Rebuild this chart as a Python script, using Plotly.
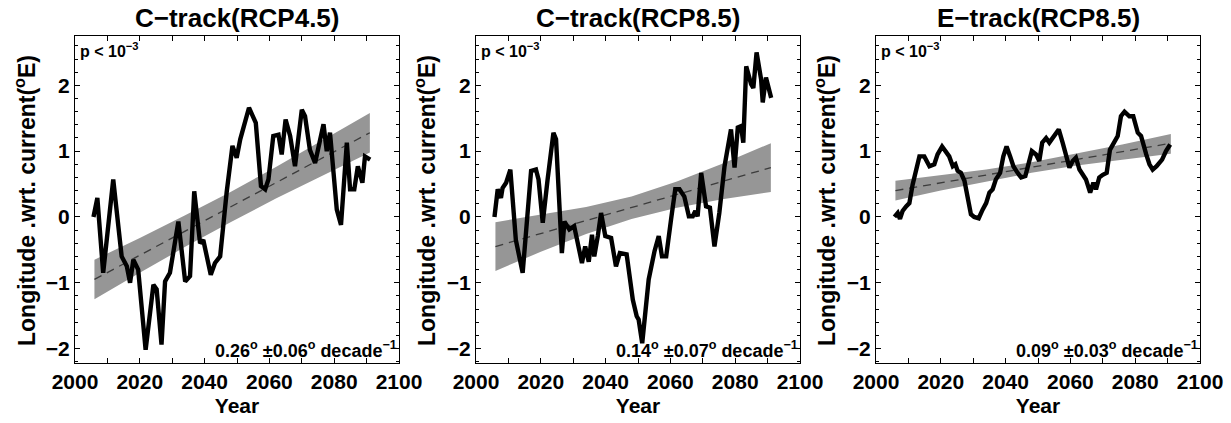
import plotly.graph_objects as go

# ---------------- data ----------------
titles = ["C\u2212track(RCP4.5)", "C\u2212track(RCP8.5)", "E\u2212track(RCP8.5)"]
rates = ["0.26<sup>o</sup> \u00b10.06<sup>o</sup> decade<sup>\u22121</sup>",
         "0.14<sup>o</sup> \u00b10.07<sup>o</sup> decade<sup>\u22121</sup>",
         "0.09<sup>o</sup> \u00b10.03<sup>o</sup> decade<sup>\u22121</sup>"]
p_label = "p < 10<sup>\u22123</sup>"
y_title = "Longitude .wrt. current(<sup>o</sup>E)"
x_title = "Year"

c45_years = [2005.7, 2006.9, 2008.7, 2011.8, 2014.4, 2016.0, 2017.0, 2018.0, 2019.5, 2021.8,
             2024.2, 2025.2, 2026.7, 2027.8, 2029.3, 2031.9, 2034.0, 2035.5, 2036.8, 2038.6,
             2039.6, 2041.9, 2043.2, 2044.8, 2046.8, 2048.6, 2049.9, 2051.0, 2053.7, 2055.8,
             2057.4, 2058.7, 2059.7, 2061.2, 2062.8, 2063.8, 2065.0, 2066.4, 2067.9, 2070.0,
             2071.0, 2072.5, 2074.1, 2076.7, 2077.7, 2078.7, 2079.8, 2080.8, 2082.1, 2083.9,
             2084.9, 2086.2, 2087.3, 2088.7, 2089.5, 2091.1]
c45_vals = [0.00, 0.29, -0.85, 0.57, -0.60, -0.75, -1.00, -0.65, -0.80, -2.02,
            -1.03, -1.10, -1.94, -0.98, -0.85, -0.07, -0.98, -0.90, 0.39, -0.40,
            -0.35, -0.88, -0.70, -0.60, 0.37, 1.08, 0.90, 1.18, 1.66, 1.43,
            0.47, 0.42, 0.57, 1.23, 1.25, 0.95, 1.48, 1.23, 0.77, 1.63,
            1.53, 1.02, 0.82, 1.41, 1.00, 1.28, 0.67, 0.11, -0.12, 1.13,
            0.42, 0.42, 0.77, 0.52, 0.92, 0.87]

c85_years = [2005.7, 2006.7, 2007.7, 2008.2, 2009.3, 2010.6, 2012.3, 2014.4, 2017.0, 2018.5,
             2019.3, 2020.6, 2022.1, 2023.9, 2024.7, 2026.5, 2027.3, 2028.8, 2030.3, 2031.4,
             2032.7, 2033.7, 2034.8, 2035.8, 2036.5, 2037.6, 2038.6, 2039.9, 2041.7, 2043.2,
             2044.4, 2046.5, 2048.4, 2049.6, 2050.2, 2051.3, 2052.0, 2053.3, 2055.1, 2056.4,
             2057.4, 2058.7, 2060.2, 2061.5, 2062.8, 2064.3, 2065.7, 2066.9, 2067.7, 2068.4,
             2069.5, 2071.0, 2072.2, 2073.6, 2075.1, 2076.7, 2078.7, 2079.8, 2080.8, 2081.8,
             2082.5, 2083.4, 2084.9, 2085.6, 2086.6, 2088.0, 2088.5, 2089.5, 2091.1]
c85_vals = [0.00, 0.42, 0.29, 0.44, 0.52, 0.72, -0.35, -0.85, 0.70, 0.72,
            0.57, -0.09, 0.57, 1.28, 1.18, -0.55, -0.07, -0.19, -0.14, -0.37,
            -0.70, -0.45, -0.68, -0.27, -0.60, -0.29, 0.06, -0.29, -0.32, -0.75,
            -0.55, -0.57, -1.26, -1.51, -1.56, -1.92, -1.56, -0.95, -0.52, -0.29,
            -0.60, -0.60, -0.04, 0.42, 0.42, 0.31, 0.01, 0.01, 0.09, 0.01,
            0.67, 0.16, 0.14, -0.45, 0.06, 0.77, 1.33, 0.75, 1.36, 1.38,
            1.13, 2.29, 2.02, 1.96, 2.50, 2.09, 1.74, 2.12, 1.81]

e85_years = [2005.7, 2006.7, 2007.4, 2008.2, 2009.3, 2010.3, 2011.3, 2012.3, 2013.4, 2014.9,
             2016.5, 2018.0, 2019.0, 2020.4, 2021.6, 2022.6, 2023.7, 2024.5, 2025.2, 2026.2,
             2027.3, 2028.3, 2029.3, 2030.3, 2031.7, 2032.9, 2034.0, 2035.0, 2036.0, 2037.0,
             2038.3, 2039.3, 2040.3, 2041.4, 2042.4, 2043.7, 2044.8, 2046.1, 2047.1, 2048.1,
             2049.4, 2050.4, 2051.3, 2052.5, 2053.5, 2055.1, 2056.4, 2057.6, 2058.7, 2059.7,
             2060.7, 2061.7, 2062.8, 2063.8, 2064.8, 2066.1, 2067.1, 2067.9, 2068.9, 2070.0,
             2071.2, 2072.2, 2073.6, 2074.6, 2075.6, 2076.7, 2078.2, 2079.4, 2080.8, 2081.8,
             2083.4, 2084.4, 2085.4, 2086.6, 2088.3, 2089.5, 2090.8]
e85_vals = [0.00, 0.06, -0.03, 0.09, 0.16, 0.21, 0.49, 0.72, 0.92, 0.92,
            0.77, 0.80, 0.95, 1.07, 1.00, 0.92, 0.77, 0.80, 0.70, 0.67,
            0.55, 0.27, 0.04, 0.00, -0.02, 0.11, 0.21, 0.37, 0.42, 0.57,
            0.67, 0.92, 1.07, 0.92, 0.77, 0.67, 0.60, 0.62, 0.80, 1.00,
            0.95, 0.85, 1.13, 1.20, 1.13, 1.23, 1.33, 1.13, 0.95, 0.75,
            0.85, 0.90, 0.72, 0.64, 0.57, 0.37, 0.52, 0.42, 0.60, 0.64,
            0.67, 1.02, 1.15, 1.23, 1.53, 1.60, 1.53, 1.53, 1.28, 1.23,
            0.95, 0.80, 0.72, 0.77, 0.87, 1.00, 1.10]

trend_years = [2006, 2091]
c45_trend = [-0.95, 1.28]
c85_trend = [-0.45, 0.75]
e85_trend = [0.40, 1.12]

band_years = [2006, 2020, 2034, 2048, 2062, 2076, 2091]
c45_upper = [-0.65, -0.32, 0.025, 0.38, 0.76, 1.15, 1.58]
c45_lower = [-1.25, -0.85, -0.455, -0.08, 0.28, 0.62, 0.98]
c85_upper = [-0.08, 0.03, 0.15, 0.31, 0.54, 0.81, 1.12]
c85_lower = [-0.82, -0.53, -0.26, -0.03, 0.14, 0.27, 0.38]
e85_upper = [0.55, 0.63, 0.72, 0.83, 0.96, 1.10, 1.26]
e85_lower = [0.25, 0.40, 0.54, 0.67, 0.78, 0.87, 0.96]

x_ticks = [2000, 2020, 2040, 2060, 2080, 2100]
y_ticks = [-2, -1, 0, 1, 2]
y_ticktext = ["\u22122", "\u22121", "0", "1", "2"]

panels = [
    (c45_years, c45_vals, c45_trend, c45_upper, c45_lower),
    (c85_years, c85_vals, c85_trend, c85_upper, c85_lower),
    (e85_years, e85_vals, e85_trend, e85_upper, e85_lower),
]

# ---------------- figure ----------------
W, H = 1231, 423
FONT = "Liberation Sans, Arial, Helvetica, sans-serif"
x_domains = [[75 / W, 399 / W], [476 / W, 800 / W], [876 / W, 1200 / W]]
y_domain = [1 - 363 / H, 1 - 36 / H]
ytitle_px = [25, 425, 825]

fig = go.Figure()
annotations = []
for i, (yrs, vals, trend, up, lo) in enumerate(panels):
    n = "" if i == 0 else str(i + 1)
    xa, ya = "x" + n, "y" + n
    fig.add_trace(go.Scatter(
        x=band_years + band_years[::-1], y=up + lo[::-1],
        fill="toself", fillcolor="rgb(150,150,150)", line=dict(width=0),
        mode="lines", hoverinfo="skip", showlegend=False, xaxis=xa, yaxis=ya))
    fig.add_trace(go.Scatter(
        x=trend_years, y=trend, mode="lines",
        line=dict(color="rgb(60,60,60)", width=1.3, dash="8px,6px"),
        showlegend=False, xaxis=xa, yaxis=ya))
    fig.add_trace(go.Scatter(
        x=yrs, y=vals, mode="lines",
        line=dict(color="black", width=4.4),
        showlegend=False, xaxis=xa, yaxis=ya))

    axis_common = dict(showgrid=False, zeroline=False, showline=True, linecolor="black",
                       linewidth=1, mirror="ticks", ticks="inside", tickcolor="black",
                       automargin=False,
                       tickfont=dict(family=FONT, size=21, color="black", weight="bold"))
    fig.update_layout(**{
        "xaxis" + n: dict(domain=x_domains[i], range=[2000, 2100], tickvals=x_ticks,
                          ticklen=5, anchor=ya,
                          minor=dict(dtick=10, tick0=2000, ticks="inside", ticklen=5,
                                     tickcolor="black"),
                          title=dict(text=x_title, standoff=6,
                                     font=dict(family=FONT, size=21, color="black",
                                               weight="bold")),
                          **axis_common),
        "yaxis" + n: dict(domain=y_domain, range=[-2.22, 2.75], tickvals=y_ticks,
                          ticktext=y_ticktext, ticklen=5, anchor=xa,
                          minor=dict(dtick=0.2, tick0=0, ticks="inside", ticklen=3,
                                     tickcolor="black"),
                          **axis_common),
    })
    annotations.append(dict(
        text=titles[i], x=(x_domains[i][0] + x_domains[i][1]) / 2, y=1 - 18 / H,
        xref="paper", yref="paper", xanchor="center", yanchor="middle", showarrow=False,
        font=dict(family=FONT, size=26, color="black", weight="bold")))
    annotations.append(dict(
        text=y_title, textangle=-90, x=ytitle_px[i] / W, y=1 - 201 / H,
        xref="paper", yref="paper", xanchor="center", yanchor="middle", showarrow=False,
        font=dict(family=FONT, size=23, color="black", weight="bold")))
    annotations.append(dict(
        text=p_label, x=0.01, y=0.995, xref=xa + " domain", yref=ya + " domain",
        xanchor="left", yanchor="top", showarrow=False,
        font=dict(family=FONT, size=16, color="black", weight="bold")))
    annotations.append(dict(
        text=rates[i], x=1.0, y=0.0, xref=xa + " domain", yref=ya + " domain",
        xanchor="right", yanchor="bottom", showarrow=False,
        font=dict(family=FONT, size=18, color="black", weight="bold")))

fig.update_layout(width=W, height=H, margin=dict(l=0, r=0, t=0, b=0, autoexpand=False),
                  paper_bgcolor="white", plot_bgcolor="white",
                  annotations=annotations, showlegend=False)

fig.write_html("out.html")
